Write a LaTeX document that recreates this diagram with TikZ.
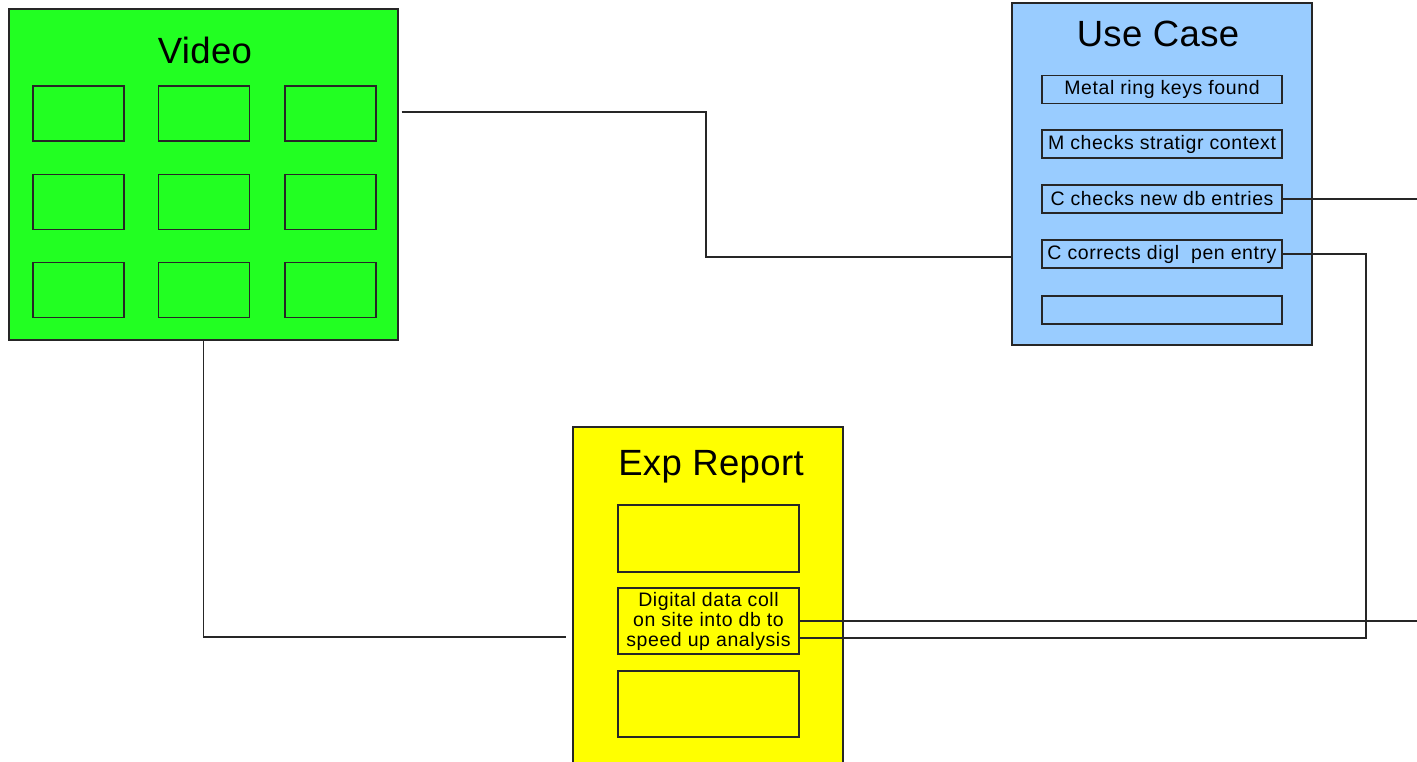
\documentclass[tikz,border=0pt]{standalone}
\usepackage{fontspec}
\setmainfont{Liberation Sans}
\newfontfamily\smallsp[LetterSpace=3]{Liberation Sans}
\newfontfamily\titlesp[LetterSpace=1]{Liberation Sans}
\definecolor{vgreen}{RGB}{34,255,34}
\definecolor{ublue}{RGB}{153,204,255}
\definecolor{eyellow}{RGB}{255,255,0}
\begin{document}
\begin{tikzpicture}[x=1pt,y=-1pt,
  box/.style={draw=black!85, line width=1.3pt, inner sep=0pt},
  cell/.style={draw=black!85, line width=1.2pt, inner sep=0pt},
  title/.style={font=\titlesp\fontsize{36.5}{40}\selectfont, inner sep=0pt},
  small/.style={font=\smallsp\fontsize{19.5}{20}\selectfont},
  wire/.style={draw=black!85, line width=1.2pt}]
\useasboundingbox (0,0) rectangle (1417,762);
\clip (0,0) rectangle (1417,762);
\fill[white] (0,0) rectangle (1417,762);

% Video
\node[box, fill=vgreen, minimum width=389pt, minimum height=331pt] (video) at (203.5,174.5) {};
\node[title] (videoT) at (205,50) {Video};
\foreach \i/\x in {1/78.5,2/204,3/330.5}
  \foreach \j/\y in {1/113.5,2/202,3/290}
    \node[cell, minimum width=91pt, minimum height=55pt] (v\i\j) at (\x,\y) {};

% Use Case
\node[box, fill=ublue, minimum width=300pt, minimum height=342pt] (uc) at (1162,174) {};
\node[title] (ucT) at (1158,34) {Use Case};
\node[cell, small, minimum width=240pt, minimum height=28pt] (ucA) at (1162,89.5) {Metal ring keys found};
\node[cell, small, minimum width=240pt, minimum height=28pt] (ucB) at (1162,144) {M checks stratigr context};
\node[cell, small, minimum width=240pt, minimum height=28pt] (ucC) at (1162,199) {C checks new db entries};
\node[cell, small, minimum width=240pt, minimum height=28pt] (ucD) at (1162,254) {C corrects digl\ \ pen entry};
\node[cell, minimum width=240pt, minimum height=28pt] (ucE) at (1162,310) {};

% Exp Report
\node[box, fill=eyellow, minimum width=270pt, minimum height=363pt] (exp) at (708,608.5) {};
\node[title] (expT) at (711,467) {Exp Report};
\node[cell, minimum width=181pt, minimum height=67pt] (expA) at (708.5,538.5) {};
\node[cell, small, minimum width=181pt, minimum height=66pt, align=center] (dig) at (708.5,621)
  {Digital data coll\\on site into db to\\speed up analysis};
\node[cell, minimum width=181pt, minimum height=66pt] (expC) at (708.5,704) {};

% connector end points
\coordinate (endC) at (1417,199);
\coordinate (endDig) at (1417,621);

% Connectors
\draw[wire] ([xshift=3pt]video.east |- 0,112) -- (706,112) |- ([yshift=-3pt]uc.west |- ucD.west);
\draw[wire] (video.south) |- ([xshift=-6pt]exp.west |- 0,637);
\draw[wire] (ucC.east) -- (endC);
\draw[wire] (ucD.east) -| (1366,638) -- ([yshift=-17pt]dig.east);
\draw[wire] (dig.east) -- (endDig);
\end{tikzpicture}
\end{document}
